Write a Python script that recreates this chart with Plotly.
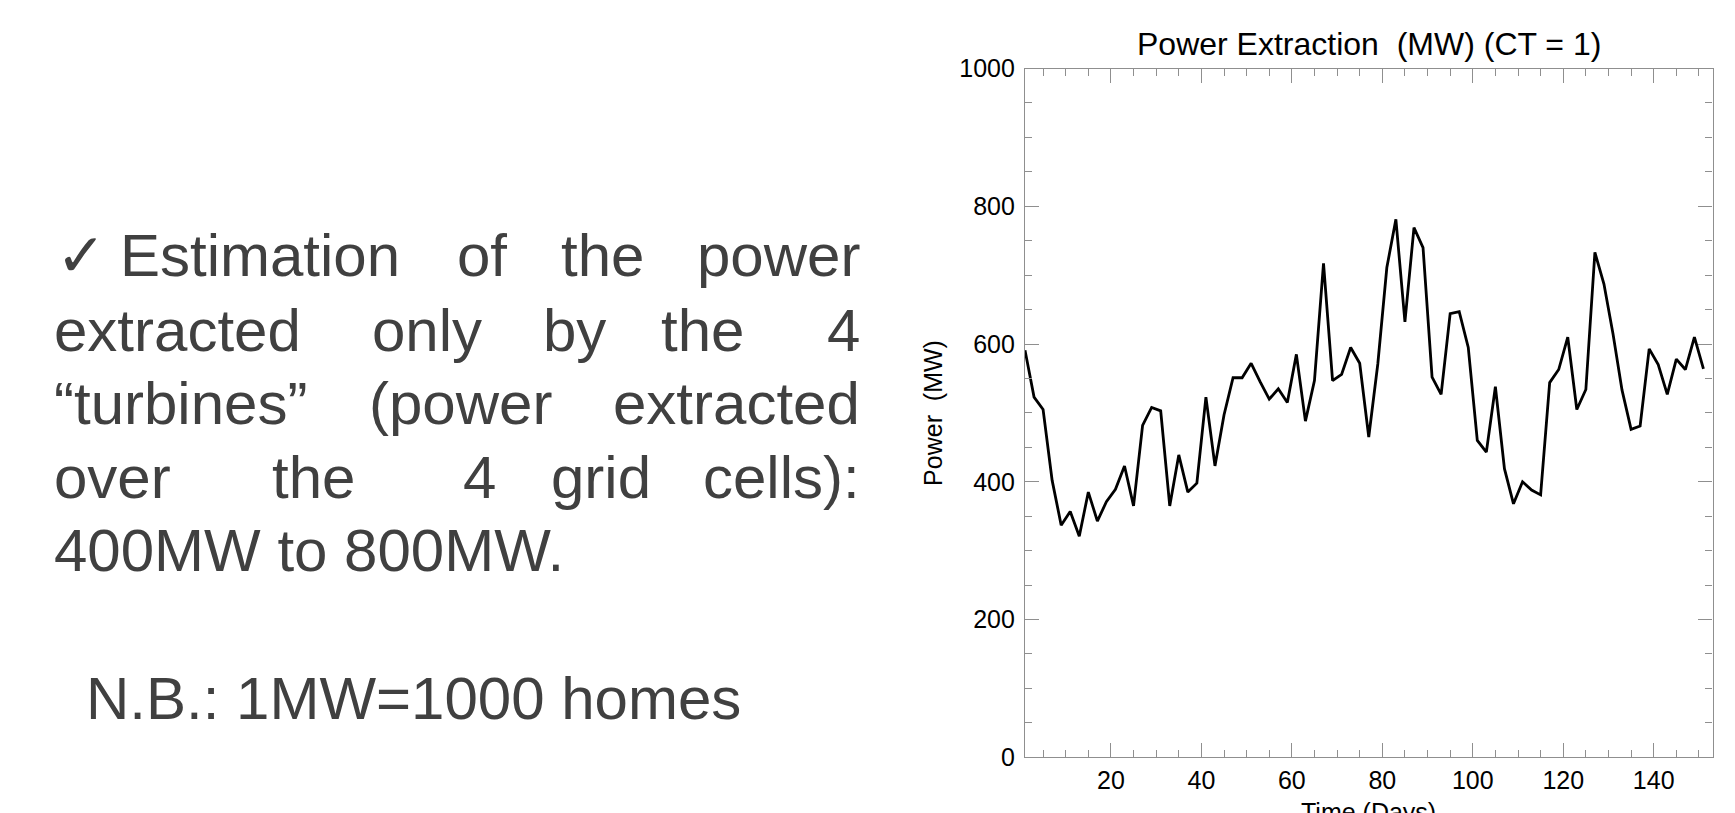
import plotly.graph_objects as go

W, H = 1735, 813

# ---- data ----
days = list(range(1, 152, 2))
power_mw = [591, 523, 505, 402, 337, 357, 321, 385, 343, 371,
            389, 423, 365, 482, 508, 503, 365, 439, 385, 398,
            523, 423, 497, 551, 551, 572, 545, 520, 535, 515,
            585, 488, 547, 717, 547, 556, 595, 572, 465, 571,
            711, 781, 632, 769, 740, 552, 527, 644, 647, 595,
            460, 443, 538, 419, 368, 400, 388, 381, 544, 563,
            610, 505, 534, 733, 687, 615, 533, 476, 481, 593,
            570, 527, 578, 563, 610, 564]

x_ticks = [20, 40, 60, 80, 100, 120, 140]
y_ticks = [0, 200, 400, 600, 800, 1000]

chart_title = "Power Extraction  (MW) (CT = 1)"
y_title = "Power  (MW)"
x_title = "Time (Days)"

# justified bullet text: (line baseline px, [(word, x px, anchor)])
text_lines = [
    (277, [("\u2713", 55, "left"), ("Estimation", 119, "left"), ("of", 456, "left"),
           ("the", 560, "left"), ("power", 861, "right")]),
    (351, [("extracted", 53, "left"), ("only", 371, "left"), ("by", 542, "left"),
           ("the", 660, "left"), ("4", 861, "right")]),
    (425, [("\u201cturbines\u201d", 53, "left"), ("(power", 368, "left"),
           ("extracted", 861, "right")]),
    (498, [("over", 53, "left"), ("the", 271, "left"), ("4", 462, "left"),
           ("grid", 550, "left"), ("cells):", 861, "right")]),
    (571, [("400MW to 800MW.", 53, "left")]),
    (719, [("N.B.: 1MW=1000 homes", 85, "left")]),
]

# ---- layout geometry (pixels) ----
PL, PR, PT, PB = 1025, 1712.5, 68.5, 757.3

def px(x):
    return x / W

def py(y):
    return 1 - y / H

FONT = "Liberation Sans, Arial, Helvetica, sans-serif"

fig = go.Figure()
fig.add_trace(go.Scatter(x=days, y=power_mw, mode="lines",
                         line=dict(color="black", width=2.8),
                         hoverinfo="x+y", showlegend=False))

axis_common = dict(
    showline=True, linecolor="#8f8f8f", linewidth=1.2, mirror="ticks",
    ticks="inside", ticklen=14, tickwidth=1.2, tickcolor="#8f8f8f",
    showgrid=False, zeroline=False, automargin=False,
    tickfont=dict(family=FONT, size=25, color="black"),
)

fig.update_layout(
    width=W, height=H,
    margin=dict(l=0, r=0, t=0, b=0, pad=0, autoexpand=False),
    paper_bgcolor="white", plot_bgcolor="white",
    xaxis=dict(domain=[px(PL), px(PR)], range=[1, 153],
               tickvals=x_ticks,
               minor=dict(dtick=5, tick0=0, ticks="inside", ticklen=7,
                          tickcolor="#8f8f8f", tickwidth=1.2, showgrid=False),
               ticklabelstandoff=1,
               **axis_common),
    yaxis=dict(domain=[py(PB), py(PT)], range=[0, 1000],
               tickvals=y_ticks,
               minor=dict(dtick=50, tick0=0, ticks="inside", ticklen=7,
                          tickcolor="#8f8f8f", tickwidth=1.2, showgrid=False),
               ticklabelstandoff=4,
               **axis_common),
)

ann = []
# chart title
ann.append(dict(text=chart_title, xref="paper", yref="paper",
                x=px((PL + PR) / 2), y=py(44), xanchor="center", yanchor="middle",
                showarrow=False, font=dict(family=FONT, size=32, color="black")))
# y axis title
ann.append(dict(text=y_title, xref="paper", yref="paper",
                x=px(933), y=py((PT + PB) / 2), xanchor="center", yanchor="middle",
                textangle=-90, showarrow=False,
                font=dict(family=FONT, size=25, color="black")))
# x axis title (partly cut off at the bottom, as in the reference)
ann.append(dict(text=x_title, xref="paper", yref="paper",
                x=px((PL + PR) / 2), y=py(796), xanchor="center", yanchor="top",
                showarrow=False, font=dict(family=FONT, size=25, color="black")))

# justified left text
for base, words in text_lines:
    for word, xw, anchor in words:
        ann.append(dict(text=word, xref="paper", yref="paper",
                        x=px(xw), y=py(base - 21), xanchor=anchor, yanchor="middle",
                        showarrow=False, borderpad=0,
                        font=dict(family=FONT, size=60, color="#404040")))

fig.update_layout(annotations=ann)
fig.write_html("out.html")
